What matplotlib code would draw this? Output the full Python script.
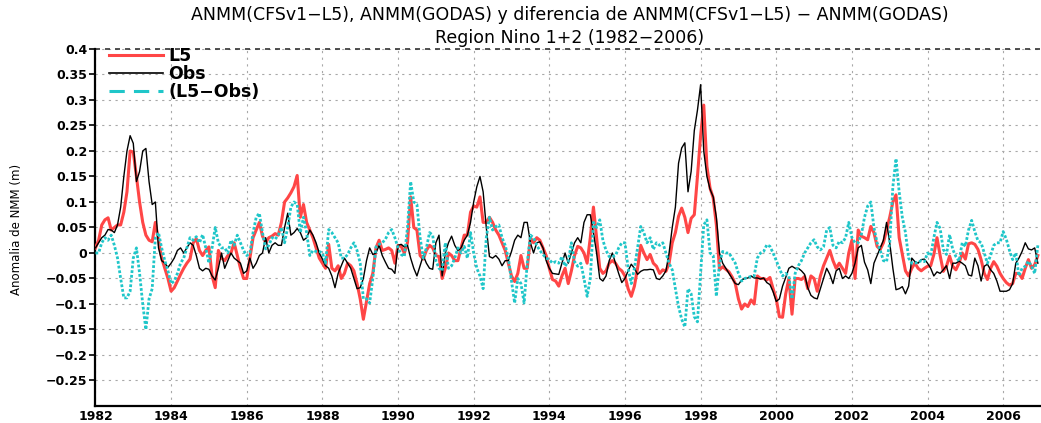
import matplotlib
matplotlib.use('Agg')
import matplotlib.pyplot as plt
from matplotlib.lines import Line2D
import numpy as np

# monthly values, Jan 1982 .. Dec 2006 (one row per year)
l5 = [
    0.01, 0.025, 0.055, 0.065, 0.069, 0.045, 0.05, 0.055, 0.055, 0.08, 0.12, 0.2,
    0.198, 0.15, 0.1, 0.06, 0.035, 0.025, 0.022, 0.06, 0.025, -0.01, -0.03, -0.05,
    -0.075, -0.068, -0.055, -0.042, -0.03, -0.02, -0.012, 0.02, 0.028, 0.005, -0.005, 0.005,
    0.012, -0.045, -0.068, 0.005, -0.01, -0.015, -0.005, 0.0, 0.02, -0.005, -0.03, -0.05,
    -0.05, -0.01, 0.03, 0.045, 0.06, 0.033, 0.02, 0.03, 0.033, 0.038, 0.035, 0.06,
    0.1, 0.108, 0.118, 0.13, 0.152, 0.07, 0.095, 0.06, 0.045, 0.03, 0.01, -0.01,
    -0.02, -0.03, 0.017, -0.03, -0.035, -0.025, -0.05, -0.04, -0.02, -0.025, -0.035, -0.06,
    -0.09, -0.13, -0.095, -0.06, -0.04, 0.01, 0.025, 0.005, 0.007, 0.01, 0.005, -0.02,
    0.015, 0.013, 0.0, 0.02, 0.11, 0.05, 0.045, -0.005, -0.012, 0.005, 0.015, 0.01,
    -0.005, -0.007, -0.05, -0.03, 0.0, -0.005, -0.015, -0.015, 0.01, 0.035, 0.035, 0.08,
    0.092, 0.09, 0.11, 0.06, 0.06, 0.07, 0.06, 0.045, 0.035, 0.02, 0.005, -0.02,
    -0.045, -0.056, -0.04, -0.005, -0.03, -0.03, 0.03, 0.02, 0.03, 0.025, 0.01, -0.005,
    -0.03, -0.052, -0.055, -0.065, -0.045, -0.03, -0.06, -0.035, -0.005, 0.013, 0.01, 0.0,
    -0.02, 0.03, 0.09, 0.03, -0.03, -0.04, -0.035, -0.02, -0.015, -0.02, -0.03, -0.035,
    -0.045, -0.07, -0.085, -0.065, -0.03, 0.015, 0.0, -0.013, -0.003, -0.02, -0.026, -0.04,
    -0.033, -0.036, -0.02, 0.02, 0.04, 0.072, 0.088, 0.07, 0.04, 0.068, 0.075, 0.15,
    0.23, 0.29, 0.17, 0.127, 0.108, 0.055, -0.033, -0.027, -0.032, -0.037, -0.047, -0.06,
    -0.09, -0.11, -0.1, -0.105, -0.092, -0.1, -0.045, -0.05, -0.05, -0.053, -0.048, -0.07,
    -0.09, -0.125, -0.126, -0.08, -0.05, -0.12, -0.05, -0.05, -0.052, -0.046, -0.07, -0.045,
    -0.05, -0.075, -0.045, -0.025, -0.01, 0.005, -0.015, -0.03, -0.02, -0.03, -0.04, 0.0,
    0.025, -0.05, 0.045, 0.033, 0.03, 0.026, 0.052, 0.04, 0.013, 0.007, 0.02, 0.045,
    0.07, 0.1, 0.114, 0.03, -0.003, -0.035, -0.045, -0.03, -0.02, -0.03, -0.035, -0.03,
    -0.026, -0.025, -0.003, 0.03, -0.005, -0.036, -0.026, -0.006, -0.026, -0.033, -0.02, 0.0,
    -0.012, 0.018, 0.02, 0.017, 0.007, -0.013, -0.04, -0.052, -0.03, -0.017, -0.026, -0.04,
    -0.05, -0.058, -0.063, -0.06, -0.04, -0.04, -0.05, -0.03, -0.013, -0.03, -0.023, -0.005,
]

obs = [
    0.01, 0.02, 0.03, 0.035, 0.046, 0.045, 0.04, 0.055, 0.09, 0.15, 0.2, 0.23,
    0.215, 0.14, 0.16, 0.2, 0.205, 0.14, 0.095, 0.1, 0.01, -0.015, -0.02, -0.028,
    -0.02, -0.01, 0.005, 0.01, 0.0, 0.01, 0.02, 0.015, -0.005, -0.03, -0.035, -0.03,
    -0.032, -0.045, -0.053, -0.03, 0.0, -0.03, -0.015, 0.0, -0.01, -0.015, -0.02, -0.04,
    -0.035, -0.01, -0.03, -0.02, -0.005, 0.0, 0.03, 0.0, 0.015, 0.02, 0.015, 0.015,
    0.05, 0.078, 0.035, 0.04, 0.048, 0.04, 0.025, 0.03, 0.045, 0.035, 0.02, 0.0,
    -0.012, -0.025, -0.03, -0.045, -0.068, -0.04, -0.025, -0.01, -0.02, -0.03, -0.05, -0.07,
    -0.068, -0.05, -0.015, 0.01, -0.003, 0.0, 0.015, -0.005, -0.018, -0.03, -0.032, -0.04,
    0.015, 0.017, 0.012, 0.015, -0.01, -0.03, -0.045, -0.025, -0.005, -0.02, -0.03, -0.032,
    0.02, 0.035, -0.045, 0.0, 0.02, 0.033, 0.015, 0.005, 0.01, 0.025, 0.035, 0.06,
    0.1, 0.13, 0.15, 0.12, 0.05, -0.007, -0.01, -0.005, -0.012, -0.025, -0.015, -0.015,
    0.003, 0.025, 0.035, 0.03, 0.06, 0.06, 0.02, 0.0, 0.02, 0.022, 0.01, -0.015,
    -0.03, -0.04, -0.041, -0.042, -0.02, 0.0, -0.02, 0.0, 0.02, 0.03, 0.02, 0.06,
    0.075, 0.075, 0.04, 0.0, -0.05, -0.055, -0.045, -0.015, 0.0, -0.02, -0.04, -0.058,
    -0.05, -0.035, -0.022, -0.03, -0.042, -0.036, -0.033, -0.033, -0.032, -0.033, -0.05, -0.052,
    -0.045, -0.035, 0.0, 0.05, 0.09, 0.176, 0.206, 0.216, 0.12, 0.16, 0.24, 0.28,
    0.33, 0.2, 0.15, 0.125, 0.11, 0.07, 0.0, -0.02, -0.03, -0.04, -0.05, -0.06,
    -0.062, -0.053, -0.05, -0.049, -0.045, -0.049, -0.049, -0.051, -0.049, -0.058, -0.062, -0.076,
    -0.095, -0.09, -0.065, -0.048, -0.03, -0.026, -0.03, -0.03, -0.035, -0.042, -0.068, -0.083,
    -0.088, -0.09, -0.07, -0.05, -0.03, -0.042, -0.06, -0.035, -0.03, -0.05, -0.045, -0.05,
    -0.04, -0.02, 0.01, 0.015, -0.018, -0.033, -0.06, -0.02, -0.005, 0.01, 0.025, 0.06,
    0.02, -0.03, -0.072, -0.07, -0.066, -0.08, -0.065, -0.01, -0.017, -0.02, -0.013, -0.012,
    -0.02, -0.03, -0.045, -0.037, -0.04, -0.033, -0.025, -0.05, -0.02, -0.02, -0.016, -0.02,
    -0.025, -0.043, -0.045, -0.01, -0.025, -0.055, -0.026, -0.022, -0.033, -0.04, -0.055, -0.075,
    -0.075, -0.075, -0.072, -0.06, -0.02, -0.01, 0.003, 0.02, 0.008, 0.006, 0.01, -0.02,
]

diff = [
    0.0, 0.0, 0.02, 0.03, 0.025, 0.035, 0.015, -0.01, -0.05, -0.088, -0.088, -0.075,
    -0.01, 0.01, -0.04, -0.1, -0.15, -0.09, -0.07, 0.03, 0.04, 0.01, -0.015, -0.035,
    -0.06, -0.055, -0.04, -0.02, -0.01, 0.01, 0.03, 0.025, 0.032, 0.02, 0.036, 0.01,
    -0.02, 0.01, 0.05, 0.02, 0.01, 0.01, 0.0, 0.025, 0.015, 0.035, 0.02, 0.005,
    -0.005, 0.0, 0.04, 0.07, 0.078, 0.04, 0.008, 0.015, 0.03, 0.027, 0.035, 0.05,
    0.02, 0.05, 0.09, 0.1, 0.095, 0.04, 0.07, 0.04, -0.005, 0.005, 0.003, 0.003,
    0.0, -0.02, 0.046, 0.04, 0.03, 0.02, -0.01, -0.01, -0.003, 0.01, 0.02, 0.005,
    -0.02, -0.09, -0.09, -0.098, -0.05, 0.012, 0.017, 0.02, 0.027, 0.04, 0.046, 0.03,
    0.01, -0.003, -0.007, 0.05, 0.14, 0.1, 0.095, 0.03, -0.01, 0.01, 0.04, 0.035,
    -0.015, -0.03, -0.035, 0.02, -0.03, -0.025, -0.01, 0.01, 0.0, 0.013, -0.01, 0.04,
    0.0, -0.03, -0.045, -0.07, 0.03, 0.07, 0.045, 0.052, 0.055, 0.03, 0.015, -0.01,
    -0.055, -0.098, -0.05, -0.06, -0.098, -0.02, 0.035, 0.03, 0.015, 0.005, -0.003, -0.01,
    -0.013, -0.02, -0.017, -0.02, -0.007, -0.026, -0.017, 0.02, -0.017, -0.026, -0.02, -0.05,
    -0.085, -0.05, 0.06, 0.05, 0.065, 0.025, 0.005, -0.007, -0.007, -0.005, 0.01, 0.02,
    0.02, -0.03, -0.06, -0.03, 0.01, 0.052, 0.04, 0.02, 0.03, 0.007, 0.02, 0.015,
    0.02, 0.0, -0.02, -0.033, -0.07, -0.105, -0.13, -0.145, -0.07, -0.08, -0.125, -0.135,
    -0.04, 0.055, 0.065, 0.0, -0.005, -0.085, -0.02, 0.003, 0.0, 0.0, -0.01, -0.02,
    -0.04, -0.055, -0.05, -0.048, -0.046, -0.045, -0.01, 0.0, 0.003, 0.016, 0.013, 0.0,
    -0.015, -0.03, -0.045, -0.04, -0.045, -0.09, -0.04, -0.025, -0.015, 0.0, 0.01, 0.02,
    0.026, 0.012, 0.006, 0.012, 0.045, 0.05, 0.015, 0.01, 0.023, 0.02, 0.03, 0.06,
    0.03, 0.02, 0.02, 0.036, 0.07, 0.092, 0.1, 0.05, 0.02, 0.005, -0.015, -0.017,
    0.02, 0.13, 0.185, 0.12, 0.07, 0.04, -0.01, -0.02, -0.02, -0.018, -0.015, -0.017,
    0.0, -0.005, 0.03, 0.06, 0.048, 0.007, -0.003, 0.036, 0.007, -0.007, -0.016, 0.02,
    0.013, 0.045, 0.064, 0.042, 0.024, 0.02, 0.0, -0.02, -0.005, 0.015, 0.02, 0.02,
    0.042, 0.027, 0.005, -0.013, 0.0, -0.045, -0.03, -0.026, -0.016, -0.026, -0.04, 0.015,
]

series_labels = ['L5', 'Obs', '(L5\u2212Obs)']
year_ticks = list(range(1982, 2007, 2))
y_ticks = [-0.25, -0.2, -0.15, -0.1, -0.05, 0, 0.05, 0.1, 0.15, 0.2, 0.25, 0.3, 0.35, 0.4]
y_tick_labels = ['\u22120.25', '\u22120.2', '\u22120.15', '\u22120.1', '\u22120.05', '0',
                 '0.05', '0.1', '0.15', '0.2', '0.25', '0.3', '0.35', '0.4']

RED = '#ff4646'
CYAN = '#1fc6c9'

t = 1982 + np.arange(len(l5)) / 12.0

fig = plt.figure(figsize=(10.41, 4.23), dpi=100)
ax = fig.add_axes([0.0917, 0.0402, 0.9083, 0.844])

ax.plot(t, l5, color=RED, lw=2.2, zorder=3)
ax.plot(t, obs, color='black', lw=1.0, zorder=4)
ax.plot(t, diff, color=CYAN, lw=2.0, linestyle=(0, (1, 0.7)), zorder=5)

ax.set_xlim(1982, 2007)
ax.set_ylim(-0.3, 0.4)
ax.set_xticks(year_ticks)
ax.set_xticklabels([str(y) for y in year_ticks])
ax.set_yticks(y_ticks)
ax.set_yticklabels(y_tick_labels)

for lab in ax.get_xticklabels() + ax.get_yticklabels():
    lab.set_fontweight('bold')
    lab.set_fontsize(9)

ax.tick_params(axis='y', direction='out', length=4, width=1.2, pad=2)
ax.tick_params(axis='x', direction='out', length=0, pad=3)

ax.grid(True, linestyle=(0, (2, 4)), color='#a8a8a8', lw=0.8, zorder=1)
ax.axhline(0.4, color='#333333', linestyle=(0, (3, 3)), lw=1.2, clip_on=False, zorder=2)

for side in ['top', 'right']:
    ax.spines[side].set_visible(False)
ax.spines['left'].set_linewidth(1.6)
ax.spines['bottom'].set_linewidth(1.6)

handles = [Line2D([], [], color=RED, lw=2.2),
           Line2D([], [], color='black', lw=1.2),
           Line2D([], [], color=CYAN, lw=2.2, linestyle=(0, (5, 3)))]
ax.legend(handles, series_labels, loc='upper left', bbox_to_anchor=(0.0148, 1.005),
          frameon=False, prop=dict(weight='bold', size=12.5),
          handlelength=3.1, handletextpad=0.3, labelspacing=0.0,
          borderaxespad=0, borderpad=0)

fig.text(0.5475, 0.9645,
         'ANMM(CFSv1\u2212L5), ANMM(GODAS) y diferencia de ANMM(CFSv1\u2212L5) \u2212 ANMM(GODAS)',
         ha='center', va='center', fontsize=12.5)
fig.text(0.5475, 0.910, 'Region Nino 1+2 (1982\u22122006)',
         ha='center', va='center', fontsize=12.5)
fig.text(0.0163, 0.4586, 'Anomalia de NMM (m)', rotation=90,
         ha='center', va='center', fontsize=8.5)

fig.savefig('out.png', dpi=100)
